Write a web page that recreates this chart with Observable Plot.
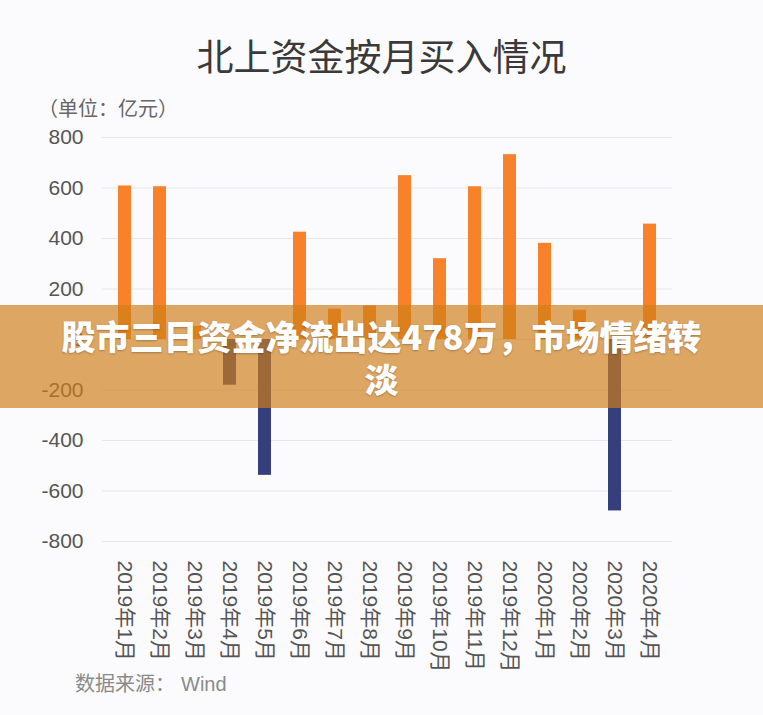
<!DOCTYPE html>
<html>
<head>
<meta charset="utf-8">
<script src="https://cdn.jsdelivr.net/npm/d3@7"></script>
<script src="https://cdn.jsdelivr.net/npm/@observablehq/plot@0.6"></script>
<style>
  html, body { margin: 0; padding: 0; background: #fbfbfd; }
  #wrap { position: relative; width: 763px; height: 715px; overflow: hidden; background: #fbfbfd;
          font-family: "Liberation Sans", "Noto Sans CJK SC", sans-serif; }
  #title { height: 96px; box-sizing: border-box; padding-top: 33px; line-height: 44px; text-align: center;
           font-size: 37px; color: #3a3a3a; font-family: "Noto Sans CJK SC", sans-serif; font-weight: 400; }
  #unit { height: 24px; line-height: 24px; padding-left: 38px; font-size: 20px; color: #666;
          font-family: "Noto Sans CJK SC", sans-serif; }
  #chart svg { display: block; overflow: visible; }
  #source { height: 24px; line-height: 24px; padding-left: 75px; font-size: 20px; color: #8a8a8a;
            font-family: "Noto Sans CJK SC", sans-serif; }
  #source span { margin-left: 6px; font-family: "Liberation Sans", sans-serif; }
  #banner { position: absolute; left: 0; top: 305px; width: 763px; height: 103px;
            background: rgba(206,126,24,0.68); display: flex; align-items: center; justify-content: center;
            text-align: center; color: #fff; font-family: "Noto Sans CJK SC", sans-serif; font-weight: 900;
            font-size: 34px; line-height: 43px; text-shadow: 0 1px 2px rgba(0,0,0,0.25); }
</style>
</head>
<body>
<div id="wrap">
  <div id="title">北上资金按月买入情况</div>
  <div id="unit">（单位：亿元）</div>
  <div id="chart"></div>
  <div id="source">数据来源：<span>Wind</span></div>
  <div id="banner">股市三日资金净流出达478万，市场情绪转<br>淡</div>
</div>
<script>
const months = ["2019年1月","2019年2月","2019年3月","2019年4月","2019年5月","2019年6月","2019年7月","2019年8月",
                "2019年9月","2019年10月","2019年11月","2019年12月","2020年1月","2020年2月","2020年3月","2020年4月"];
const values = [608, 605, 52, -181, -538, 425, 120, 133, 649, 320, 605, 732, 381, 116, -679, 457];
const yTicks = [-800, -600, -400, -200, 0, 200, 400, 600, 800];
const yTickLabels = yTicks.map(v => String(v));

const data = months.map((m, i) => ({month: m, value: values[i]}));

const chart = Plot.plot({
  width: 763,
  height: 551,
  marginTop: 17,
  marginBottom: 130,
  marginLeft: 102,
  marginRight: 91,
  style: {background: "transparent", fontFamily: "'Liberation Sans', 'Noto Sans CJK SC', sans-serif", overflow: "visible"},
  x: {domain: months, paddingInner: 0.636, paddingOuter: 0.318, label: null},
  y: {domain: [-800, 800], label: null},
  marks: [
    Plot.gridY(yTicks, {stroke: "#e6e6ec", strokeOpacity: 1, strokeWidth: 1}),
    Plot.barY(data, {x: "month", y: "value", fill: d => d.value >= 0 ? "#f7822a" : "#353f7c"}),
    Plot.axisY(yTicks, {tickSize: 0, tickPadding: 19, fontSize: 21, fill: "#555",
                        tickFormat: (d) => yTickLabels[yTicks.indexOf(d)], label: null}),
    Plot.axisX({tickSize: 0, tickRotate: 90, tickPadding: 19, fontSize: 21, fill: "#555", label: null,
                fontFamily: "'Liberation Sans', 'Noto Sans CJK SC', sans-serif"})
  ]
});
document.getElementById("chart").appendChild(chart);
</script>
</body>
</html>
